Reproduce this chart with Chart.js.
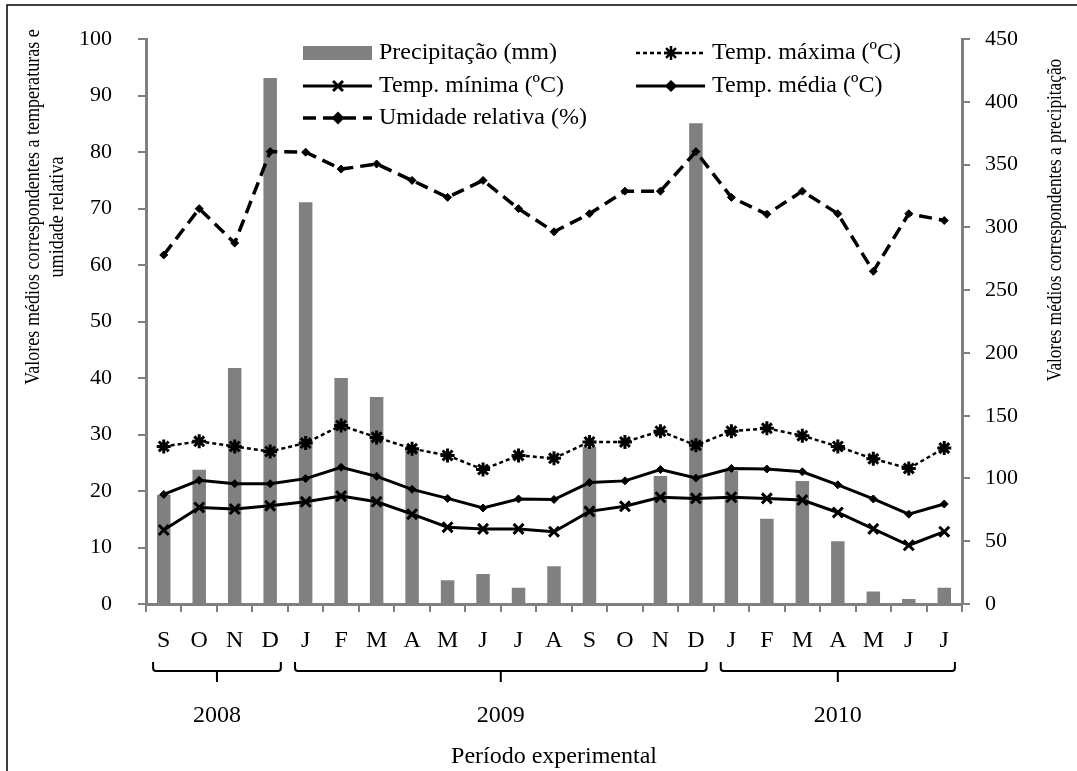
<!DOCTYPE html>
<html>
<head>
<meta charset="utf-8">
<script src="https://cdn.jsdelivr.net/npm/chart.js@4/dist/chart.umd.min.js"></script>
<style>
  html, body { margin: 0; padding: 0; background: #fff; }
  #wrap { position: relative; width: 1077px; height: 771px; }
</style>
</head>
<body>
<div id="wrap"><canvas id="chart" width="1077" height="771"></canvas></div>
<script>
// months from Sep 2008 to Jul 2010
const months = ['S','O','N','D','J','F','M','A','M','J','J','A','S','O','N','D','J','F','M','A','M','J','J'];
const years = ['2008', '2009', '2010'];
const yearFirst = [0, 4, 16];
const yearLast = [3, 15, 22];

const precipitacao = [87, 107, 188, 419, 320, 180, 165, 123, 19, 24, 13, 30, 125, 0, 102, 383, 106, 68, 98, 50, 10, 4, 13];
const tempMaxima = [27.9, 28.8, 27.9, 27.0, 28.5, 31.6, 29.5, 27.5, 26.3, 23.8, 26.3, 25.8, 28.7, 28.7, 30.6, 28.1, 30.6, 31.1, 29.8, 27.9, 25.7, 24.0, 27.6];
const tempMinima = [13.1, 17.1, 16.8, 17.4, 18.1, 19.1, 18.1, 15.9, 13.6, 13.3, 13.3, 12.8, 16.4, 17.3, 18.9, 18.7, 18.9, 18.7, 18.4, 16.2, 13.3, 10.4, 12.8];
const tempMedia = [19.4, 21.9, 21.3, 21.3, 22.2, 24.2, 22.6, 20.3, 18.7, 17.0, 18.6, 18.5, 21.5, 21.8, 23.8, 22.3, 24.0, 23.9, 23.4, 21.1, 18.6, 15.9, 17.7];
const umidade = [61.8, 70.0, 63.9, 80.1, 80.0, 77.0, 77.9, 75.0, 72.0, 75.0, 70.0, 65.9, 69.1, 73.1, 73.1, 80.1, 72.0, 69.0, 73.1, 69.1, 58.9, 69.1, 67.9];

const SERIF = "'Liberation Serif', 'Times New Roman', serif";
const AXIS_GRAY = '#808080';

// legend layout: [column, row] for each dataset
const legendSlots = [[0, 0], [1, 0], [0, 1], [1, 1], [0, 2]];

// rotated title, squeezed along its length like the original narrow font
function drawSideTitle(ctx, text, cx, cy, squeeze) {
  ctx.save();
  ctx.translate(cx, cy);
  ctx.rotate(-Math.PI / 2);
  ctx.scale(squeeze, 1);
  ctx.fillText(text, 0, 0);
  ctx.restore();
}

const extras = {
  id: 'extras',
  afterDraw(chart) {
    const ctx = chart.ctx;
    const x = chart.scales.x;
    const area = chart.chartArea;
    ctx.save();

    // frame (only left and top visible in the original)
    ctx.strokeStyle = '#000';
    ctx.lineWidth = 1.5;
    ctx.beginPath();
    ctx.moveTo(7, 771);
    ctx.lineTo(7, 5);
    ctx.lineTo(1077, 5);
    ctx.stroke();

    // year brackets
    const step = x.getPixelForValue(1) - x.getPixelForValue(0);
    ctx.lineWidth = 2;
    ctx.fillStyle = '#000';
    ctx.font = '24px ' + SERIF;
    ctx.textAlign = 'center';
    ctx.textBaseline = 'middle';
    years.forEach((yr, i) => {
      const x1 = x.getPixelForValue(yearFirst[i]) - 0.3 * step;
      const x2 = x.getPixelForValue(yearLast[i]) + 0.3 * step;
      const xm = (x1 + x2) / 2;
      ctx.beginPath();
      ctx.moveTo(x1, 662);
      ctx.lineTo(x1, 668);
      ctx.quadraticCurveTo(x1, 671, x1 + 3, 671);
      ctx.lineTo(x2 - 3, 671);
      ctx.quadraticCurveTo(x2, 671, x2, 668);
      ctx.lineTo(x2, 662);
      ctx.moveTo(xm, 671);
      ctx.lineTo(xm, 682);
      ctx.stroke();
      ctx.fillText(yr, xm, 716);
    });

    // x title
    ctx.font = '24px ' + SERIF;
    ctx.fillText('Período experimental', (area.left + area.right) / 2, 757);

    // y titles
    ctx.font = '21px ' + SERIF;
    drawSideTitle(ctx, 'Valores médios correspondentes a temperaturas e', 33, 207, 0.86);
    drawSideTitle(ctx, 'umidade relativa', 57, 217, 0.86);
    drawSideTitle(ctx, 'Valores médios correspondentes a precipitação', 1055, 220, 0.82);

    // legend
    const colX = [303, 636];
    const rowY = [53, 86, 118];
    ctx.font = '24px ' + SERIF;
    ctx.textAlign = 'left';
    chart.data.datasets.forEach((ds, i) => {
      const sx = colX[legendSlots[i][0]];
      const sy = rowY[legendSlots[i][1]];
      if (ds.type === 'bar') {
        ctx.fillStyle = ds.backgroundColor;
        ctx.fillRect(sx, sy - 7, 69, 14);
      } else {
        ctx.strokeStyle = '#000';
        ctx.lineWidth = ds.borderWidth;
        ctx.setLineDash(ds.borderDash || []);
        ctx.beginPath();
        ctx.moveTo(sx, sy);
        ctx.lineTo(sx + 69, sy);
        ctx.stroke();
        ctx.setLineDash([]);
        ctx.fillStyle = '#000';
        Chart.helpers.drawPoint(ctx, {
          pointStyle: ds.pointStyle,
          radius: ds.pointRadius,
          borderWidth: ds.pointBorderWidth,
          rotation: 0
        }, sx + 35, sy);
      }
      ctx.fillStyle = '#000';
      ctx.fillText(ds.label, sx + 76, sy);
    });
    ctx.restore();
  }
};

const lineBase = {
  type: 'line',
  yAxisID: 'y',
  borderColor: '#000',
  backgroundColor: '#000',
  pointBorderColor: '#000',
  pointBackgroundColor: '#000',
  fill: false,
  tension: 0,
  order: 1
};

new Chart(document.getElementById('chart'), {
  data: {
    labels: months,
    datasets: [
      {
        type: 'bar',
        label: 'Precipitação (mm)',
        data: precipitacao,
        yAxisID: 'y1',
        backgroundColor: '#808080',
        barPercentage: 0.38,
        categoryPercentage: 1,
        order: 10
      },
      Object.assign({}, lineBase, {
        label: 'Temp. máxima (ºC)',
        data: tempMaxima,
        borderWidth: 2.5,
        borderDash: [4, 3],
        pointStyle: 'star',
        pointRadius: 7,
        pointBorderWidth: 3
      }),
      Object.assign({}, lineBase, {
        label: 'Temp. mínima (ºC)',
        data: tempMinima,
        borderWidth: 3,
        pointStyle: 'crossRot',
        pointRadius: 7,
        pointBorderWidth: 3
      }),
      Object.assign({}, lineBase, {
        label: 'Temp. média (ºC)',
        data: tempMedia,
        borderWidth: 3,
        pointStyle: 'rectRot',
        pointRadius: 4,
        pointBorderWidth: 1
      }),
      Object.assign({}, lineBase, {
        label: 'Umidade relativa (%)',
        data: umidade,
        borderWidth: 3.5,
        borderDash: [13, 7],
        pointStyle: 'rectRot',
        pointRadius: 4,
        pointBorderWidth: 1
      })
    ]
  },
  options: {
    responsive: false,
    animation: false,
    layout: { padding: { top: 34, left: 0, right: 0, bottom: 0 } },
    plugins: {
      legend: { display: false },
      tooltip: { enabled: false }
    },
    scales: {
      x: {
        grid: { display: true, drawOnChartArea: false, drawTicks: true, tickLength: 8, color: AXIS_GRAY, lineWidth: 2 },
        border: { display: true, color: AXIS_GRAY, width: 3 },
        ticks: { color: '#000', font: { family: SERIF, size: 24 }, padding: 14, maxRotation: 0, autoSkip: false },
        afterFit: s => { s.height = 167; }
      },
      y: {
        position: 'left',
        min: 0,
        max: 100,
        grid: { display: true, drawOnChartArea: false, drawTicks: true, tickLength: 8, color: AXIS_GRAY, lineWidth: 2 },
        border: { display: true, color: AXIS_GRAY, width: 3 },
        ticks: { stepSize: 10, color: '#000', font: { family: SERIF, size: 22 }, padding: 26 },
        afterFit: s => { s.width = 146; }
      },
      y1: {
        position: 'right',
        min: 0,
        max: 450,
        grid: { display: true, drawOnChartArea: false, drawTicks: true, tickLength: 8, color: AXIS_GRAY, lineWidth: 2 },
        border: { display: true, color: AXIS_GRAY, width: 3 },
        ticks: { stepSize: 50, color: '#000', font: { family: SERIF, size: 22 }, padding: 15 },
        afterFit: s => { s.width = 115; }
      }
    }
  },
  plugins: [extras]
});
</script>
</body>
</html>
